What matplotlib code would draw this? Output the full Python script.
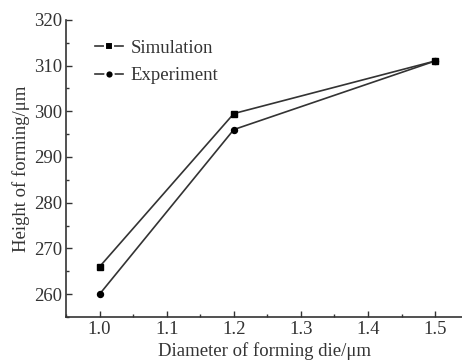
import matplotlib
matplotlib.use("Agg")
import matplotlib.pyplot as plt
from matplotlib.ticker import MultipleLocator, FormatStrFormatter
from matplotlib.lines import Line2D

plt.rcParams['font.family'] = ['Liberation Serif', 'DejaVu Serif']

# data
diameter = [1.0, 1.2, 1.5]
simulation = [266, 299.5, 311]
experiment = [260, 296, 311]

ink = '#333333'
fs = 13.5

fig = plt.figure(figsize=(4.62, 3.61), dpi=100)
ax = fig.add_axes([0.143, 0.122, 0.857, 0.823])

ax.plot(diameter, simulation, color=ink, lw=1.2, marker='s', ms=3.8,
        mfc='black', mec='black')
ax.plot(diameter, experiment, color=ink, lw=1.2, marker='o', ms=4.3,
        mfc='black', mec='black')

ax.set_xlim(0.95, 1.54)
ax.set_ylim(255, 320)
ax.xaxis.set_major_locator(MultipleLocator(0.1))
ax.xaxis.set_minor_locator(MultipleLocator(0.05))
ax.yaxis.set_major_locator(MultipleLocator(10))
ax.yaxis.set_minor_locator(MultipleLocator(5))
ax.xaxis.set_major_formatter(FormatStrFormatter('%.1f'))

for s in ['top', 'right']:
    ax.spines[s].set_visible(False)
for s in ['left', 'bottom']:
    ax.spines[s].set_linewidth(1.2)
    ax.spines[s].set_color(ink)

ax.tick_params(which='both', direction='in', color=ink, labelsize=fs, labelcolor=ink)
ax.tick_params(which='major', length=4, width=1, pad=3)
ax.tick_params(which='minor', length=2.5, width=1)

ax.set_xlabel('Diameter of forming die/μm', fontsize=fs, color=ink, labelpad=3)
ax.set_ylabel('Height of forming/μm', fontsize=fs, color=ink, labelpad=3)

# legend handles: marker with a white halo so the line looks broken around it
h_sim = Line2D([], [], color=ink, lw=1.2, marker='s', ms=5.5, mfc='black',
               mec='white', mew=1.5)
h_exp = Line2D([], [], color=ink, lw=1.2, marker='o', ms=6, mfc='black',
               mec='white', mew=1.5)
ax.legend([h_sim, h_exp], ['Simulation', 'Experiment'], loc='upper left',
          bbox_to_anchor=(0.03, 0.99), frameon=False, fontsize=fs,
          handlelength=1.5, labelspacing=0.55, handletextpad=0.4, labelcolor=ink)

fig.savefig('out.png', dpi=100)
